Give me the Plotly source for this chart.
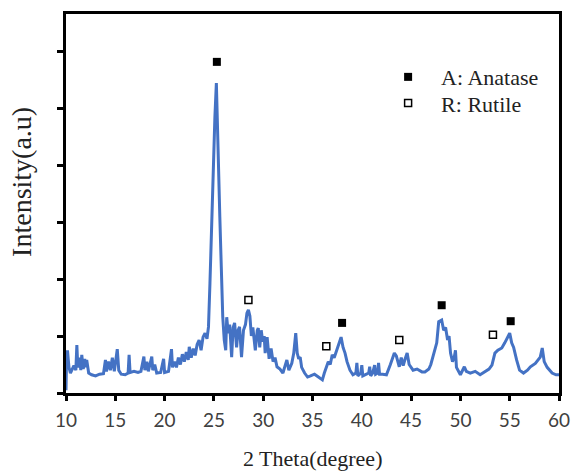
import plotly.graph_objects as go

# 2-theta (degree) and intensity (a.u.)
two_theta = [10.0, 10.05, 10.15, 10.3, 10.45, 10.6, 10.8, 11.0, 11.1, 11.2, 11.4, 11.5, 11.6, 11.75, 11.9, 12.0, 12.1, 12.3, 12.6, 13.0,
             13.4, 13.8, 14.0, 14.1, 14.3, 14.5, 14.7, 14.9, 15.2, 15.35, 15.6, 16.0, 16.3, 16.4, 16.5, 16.9, 17.3, 17.6, 17.9, 18.0,
             18.2, 18.35, 18.7, 18.8, 19.0, 19.2, 19.6, 19.9, 20.0, 20.4, 20.7, 20.8, 21.0, 21.2, 21.4, 21.6, 21.8, 22.0, 22.2, 22.4,
             22.5, 22.7, 22.9, 23.1, 23.3, 23.5, 23.7, 23.9, 24.1, 24.3, 24.45, 24.6, 24.8, 24.95, 25.1, 25.25, 25.4, 25.6, 25.75, 25.9,
             26.05, 26.2, 26.3, 26.45, 26.6, 26.8, 26.95, 27.1, 27.3, 27.45, 27.6, 27.8, 28.0, 28.2, 28.35, 28.5, 28.65, 28.8, 28.95, 29.1,
             29.2, 29.4, 29.5, 29.65, 29.8, 29.95, 30.1, 30.2, 30.4, 30.6, 30.8, 31.0, 31.2, 31.4, 31.7, 32.0, 32.2, 32.4, 32.6, 32.9,
             33.1, 33.3, 33.45, 33.6, 33.75, 33.9, 34.2, 34.5, 34.8, 35.2, 35.6, 36.0, 36.2, 36.4, 36.6, 36.8, 37.0, 37.2, 37.4, 37.6,
             37.9, 38.1, 38.3, 38.5, 38.8, 39.1, 39.4, 39.5, 39.6, 39.9, 40.0, 40.1, 40.4, 40.7, 40.8, 40.9, 41.1, 41.3, 41.4, 41.6,
             41.7, 41.8, 42.1, 42.5, 42.9, 43.1, 43.3, 43.5, 43.8, 44.0, 44.2, 44.4, 44.6, 44.8, 45.0, 45.2, 45.6, 46.1, 46.4, 46.8,
             47.0, 47.2, 47.4, 47.6, 47.8, 48.1, 48.3, 48.5, 48.7, 48.85, 49.0, 49.2, 49.4, 49.5, 49.6, 50.0, 50.4, 50.6, 51.0, 51.5,
             52.0, 52.5, 52.9, 53.2, 53.5, 53.8, 54.2, 54.5, 54.8, 55.0, 55.2, 55.4, 55.7, 56.0, 56.4, 56.8, 57.1, 57.6, 58.1, 58.3,
             58.5, 58.8, 59.3, 59.7, 60.0]
intensity = [0.05, 0.55, 0.75, 0.45, 0.35, 0.40, 0.48, 0.40, 0.84, 0.45, 0.62, 0.40, 0.67, 0.42, 0.60, 0.45, 0.58, 0.35, 0.32, 0.30,
             0.33, 0.34, 0.58, 0.38, 0.55, 0.40, 0.62, 0.38, 0.77, 0.40, 0.33, 0.32, 0.35, 0.67, 0.36, 0.38, 0.36, 0.38, 0.64, 0.40,
             0.55, 0.38, 0.64, 0.40, 0.50, 0.35, 0.36, 0.60, 0.36, 0.38, 0.77, 0.45, 0.55, 0.45, 0.62, 0.50, 0.68, 0.55, 0.72, 0.58,
             0.81, 0.62, 0.78, 0.66, 0.85, 0.93, 0.75, 0.98, 1.05, 0.95, 1.16, 1.93, 3.09, 4.26, 4.84, 5.44, 4.26, 3.09, 2.21, 1.33,
             0.93, 0.75, 1.33, 1.05, 1.20, 0.63, 1.15, 1.23, 0.80, 1.10, 1.16, 0.63, 1.10, 1.20, 1.40, 1.46, 1.35, 1.00, 1.15, 0.90,
             0.75, 1.10, 1.14, 0.80, 1.10, 0.90, 1.00, 0.70, 0.98, 0.60, 0.78, 0.55, 0.62, 0.46, 0.42, 0.35, 0.45, 0.58, 0.40, 0.52,
             0.70, 1.05, 0.70, 0.60, 0.63, 0.45, 0.35, 0.28, 0.30, 0.33, 0.28, 0.23, 0.35, 0.45, 0.55, 0.50, 0.67, 0.62, 0.72, 0.81,
             0.98, 0.80, 0.70, 0.55, 0.40, 0.32, 0.35, 0.53, 0.30, 0.35, 0.49, 0.30, 0.33, 0.35, 0.46, 0.30, 0.35, 0.49, 0.33, 0.35,
             0.53, 0.33, 0.33, 0.32, 0.50, 0.62, 0.70, 0.65, 0.46, 0.62, 0.48, 0.60, 0.70, 0.50, 0.45, 0.40, 0.42, 0.37, 0.37, 0.42,
             0.50, 0.63, 0.72, 0.88, 1.25, 1.28, 1.10, 1.15, 0.93, 1.00, 0.70, 0.55, 0.65, 0.75, 0.45, 0.32, 0.46, 0.38, 0.35, 0.38,
             0.32, 0.38, 0.42, 0.49, 0.70, 0.75, 0.79, 0.88, 0.98, 1.05, 0.88, 0.80, 0.58, 0.40, 0.35, 0.40, 0.46, 0.52, 0.63, 0.79,
             0.55, 0.45, 0.35, 0.32, 0.32]

# phase markers
anatase_x = [25.3, 38.0, 48.1, 55.1]
anatase_y = [5.81, 1.23, 1.54, 1.26]
rutile_x = [28.5, 36.4, 43.8, 53.3]
rutile_y = [1.63, 0.82, 0.93, 1.02]

x_ticks = [10, 15, 20, 25, 30, 35, 40, 45, 50, 55, 60]

fig = go.Figure()
fig.add_trace(go.Scatter(x=two_theta, y=intensity, mode="lines",
                         line=dict(color="#4472C4", width=3), showlegend=False))
fig.add_trace(go.Scatter(x=anatase_x, y=anatase_y, mode="markers", name="A: Anatase", legend="legend",
                         marker=dict(symbol="square", size=8, color="black")))
fig.add_trace(go.Scatter(x=rutile_x, y=rutile_y, mode="markers", name="R: Rutile", legend="legend2",
                         marker=dict(symbol="square-open", size=7, color="black", line=dict(width=1.5))))

serif = "Liberation Serif, Times New Roman, serif"
legend_common = dict(xanchor="left", yanchor="top",
                     font=dict(family=serif, size=22, color="#222222"),
                     bgcolor="rgba(0,0,0,0)", itemwidth=56)
fig.update_layout(
    width=573, height=473,
    margin=dict(l=66, r=14, t=14, b=80, autoexpand=False),
    paper_bgcolor="white", plot_bgcolor="white",
    showlegend=True,
    legend=dict(x=0.627, y=0.889, **legend_common),
    legend2=dict(x=0.627, y=0.820, **legend_common),
    xaxis=dict(range=[10, 60], tickvals=x_ticks, ticktext=[str(v) for v in x_ticks],
               showgrid=False, zeroline=False, showline=True, linecolor="black", linewidth=2.5,
               mirror=True, ticks="outside", ticklen=5, tickwidth=2.5, tickcolor="black",
               ticklabelstandoff=3,
               tickfont=dict(family="Lato, sans-serif", size=19, color="#404040")),
    yaxis=dict(range=[0, 6.65], dtick=1, tick0=0, showticklabels=False,
               showgrid=False, zeroline=False, showline=True, linecolor="black", linewidth=2.5,
               mirror=True, ticks="outside", ticklen=6, tickwidth=2.5, tickcolor="black"),
    annotations=[
        dict(text="2 Theta(degree)", xref="paper", yref="paper", x=0.5, y=-0.174,
             xanchor="center", yanchor="middle", showarrow=False,
             font=dict(family=serif, size=22, color="#222222")),
        dict(text="Intensity(a.u)", xref="paper", yref="paper", x=-0.09, y=0.556,
             xanchor="center", yanchor="middle", showarrow=False, textangle=-90,
             font=dict(family=serif, size=28, color="#222222")),
    ],
)

fig.write_html("out.html")
